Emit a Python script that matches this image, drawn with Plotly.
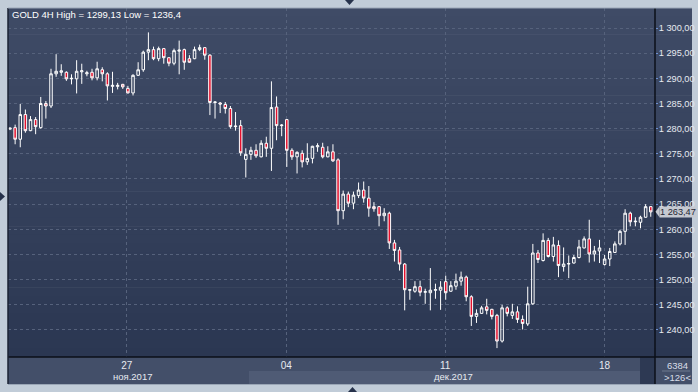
import plotly.graph_objects as go

# ---------------- data (GOLD 4H) ----------------
opens = [1279.9, 1280.2, 1277.9, 1282.8, 1279.6, 1281.8, 1280.2, 1285.0, 1284.5, 1290.9,
         1291.2, 1291.2, 1289.9, 1289.9, 1291.3, 1290.9, 1291.2, 1290.1, 1291.7, 1290.9,
         1288.4, 1288.4, 1288.8, 1288.0, 1287.1, 1290.6, 1291.7, 1295.2, 1295.7, 1293.9,
         1295.9, 1294.1, 1293.0, 1295.4, 1295.7, 1293.9, 1293.9, 1295.7, 1296.1, 1294.6,
         1285.2, 1285.1, 1284.8, 1284.0, 1280.4, 1280.6, 1273.9, 1274.9, 1275.7, 1274.4,
         1277.1, 1276.1, 1284.3, 1280.6, 1281.8, 1275.7, 1274.4, 1275.1, 1273.4, 1274.1,
         1276.4, 1276.3, 1274.4, 1275.4, 1273.8, 1263.7, 1267.0, 1265.2, 1266.7, 1267.8,
         1266.2, 1264.5, 1264.5, 1262.7, 1263.2, 1257.3, 1255.9, 1253.1, 1247.9, 1247.7,
         1248.6, 1247.5, 1247.4, 1247.9, 1247.9, 1249.6, 1247.7, 1248.7, 1249.7, 1250.5,
         1246.6, 1242.7, 1243.3, 1244.6, 1244.1, 1242.9, 1237.8, 1244.4, 1242.9, 1243.6,
         1242.1, 1241.2, 1245.2, 1255.3, 1253.8, 1257.8, 1254.6, 1256.8, 1252.6, 1253.1,
         1253.3, 1254.4, 1256.3, 1258.1, 1255.1, 1255.7, 1253.0, 1254.1, 1255.4, 1257.1,
         1259.6, 1263.2, 1261.5, 1261.4, 1262.4, 1264.5]
highs = [1280.2, 1280.8, 1284.9, 1283.8, 1282.5, 1282.3, 1286.3, 1285.5, 1291.9, 1294.8,
         1292.8, 1291.4, 1290.8, 1293.6, 1292.9, 1291.5, 1291.9, 1293.3, 1292.2, 1291.2,
         1291.3, 1289.1, 1288.9, 1288.5, 1290.8, 1293.2, 1295.5, 1299.13, 1296.3, 1296.3,
         1296.0, 1294.2, 1295.9, 1297.5, 1295.9, 1294.6, 1296.3, 1296.7, 1296.2, 1294.8,
         1285.4, 1285.3, 1285.3, 1284.5, 1283.3, 1281.7, 1276.1, 1276.4, 1276.9, 1277.7,
         1278.4, 1289.4, 1286.4, 1280.9, 1281.9, 1276.1, 1275.5, 1275.7, 1277.1, 1276.6,
         1277.1, 1277.2, 1276.5, 1276.9, 1274.1, 1267.7, 1267.5, 1267.5, 1269.3, 1269.5,
         1268.6, 1265.4, 1264.6, 1264.2, 1263.5, 1257.9, 1256.5, 1253.3, 1248.0, 1249.7,
         1249.8, 1248.2, 1252.3, 1249.2, 1249.7, 1250.8, 1249.7, 1251.2, 1251.6, 1250.8,
         1246.9, 1244.1, 1244.8, 1246.2, 1244.2, 1243.2, 1245.0, 1244.7, 1245.2, 1244.7,
         1242.9, 1248.6, 1257.1, 1255.9, 1259.2, 1258.3, 1258.5, 1257.8, 1256.4, 1254.8,
         1254.9, 1257.9, 1258.6, 1261.9, 1256.7, 1257.9, 1254.9, 1256.3, 1257.6, 1259.9,
         1264.0, 1263.5, 1262.4, 1262.7, 1265.0, 1264.6]
lows = [1279.8, 1276.9, 1276.3, 1279.2, 1279.5, 1278.9, 1280.0, 1282.0, 1284.1, 1290.3,
        1290.5, 1289.5, 1288.8, 1287.0, 1288.9, 1290.4, 1289.6, 1289.6, 1289.4, 1285.6,
        1287.1, 1287.8, 1287.9, 1287.0, 1286.6, 1290.5, 1291.3, 1293.6, 1293.6, 1293.4,
        1292.9, 1292.4, 1292.6, 1290.8, 1291.7, 1293.1, 1293.8, 1295.4, 1293.7, 1282.7,
        1282.0, 1283.1, 1283.0, 1280.0, 1279.6, 1274.6, 1270.3, 1273.8, 1274.2, 1274.3,
        1274.4, 1271.6, 1277.7, 1278.5, 1272.4, 1273.8, 1271.1, 1272.3, 1272.8, 1273.1,
        1275.4, 1274.1, 1274.3, 1273.4, 1260.9, 1262.0, 1264.4, 1264.0, 1266.2, 1265.3,
        1262.5, 1263.5, 1260.6, 1261.6, 1256.1, 1253.6, 1251.8, 1243.9, 1246.0, 1247.4,
        1246.7, 1245.2, 1243.9, 1246.2, 1244.0, 1246.0, 1247.6, 1248.0, 1248.8, 1245.7,
        1240.8, 1241.4, 1243.2, 1243.1, 1242.1, 1236.4, 1237.5, 1242.7, 1242.2, 1241.4,
        1240.1, 1240.8, 1245.0, 1253.3, 1253.6, 1254.4, 1253.6, 1250.5, 1251.6, 1250.3,
        1253.2, 1254.2, 1256.2, 1253.4, 1253.6, 1253.3, 1252.8, 1252.7, 1255.3, 1256.8,
        1256.9, 1260.6, 1260.6, 1260.2, 1262.3, 1262.5]
closes = [1280.1, 1277.9, 1282.8, 1279.6, 1281.8, 1280.4, 1285.0, 1284.5, 1290.9, 1291.4,
          1291.5, 1289.9, 1290.0, 1291.4, 1291.5, 1291.1, 1290.1, 1291.9, 1290.9, 1288.5,
          1288.6, 1288.6, 1288.3, 1287.1, 1290.6, 1291.7, 1295.2, 1295.7, 1293.9, 1295.9,
          1294.1, 1293.0, 1295.5, 1295.6, 1293.2, 1293.2, 1295.7, 1296.1, 1294.6, 1285.2,
          1285.3, 1284.9, 1284.0, 1280.4, 1280.5, 1275.2, 1274.9, 1275.7, 1274.6, 1277.1,
          1276.1, 1284.2, 1280.6, 1280.7, 1275.7, 1274.4, 1275.3, 1273.4, 1274.1, 1276.5,
          1276.6, 1274.4, 1275.4, 1273.6, 1263.7, 1267.0, 1265.2, 1266.8, 1267.8, 1266.2,
          1264.2, 1264.1, 1262.7, 1263.2, 1257.3, 1255.8, 1253.1, 1248.0, 1248.0, 1248.6,
          1247.5, 1247.6, 1247.9, 1248.0, 1248.5, 1247.4, 1248.8, 1249.7, 1250.5, 1246.6,
          1242.7, 1243.3, 1244.4, 1243.9, 1242.7, 1237.8, 1244.4, 1243.3, 1243.6, 1242.1,
          1241.3, 1245.2, 1255.3, 1254.0, 1257.8, 1254.6, 1256.9, 1252.8, 1253.1, 1253.2,
          1254.4, 1256.5, 1258.1, 1255.1, 1255.7, 1256.3, 1254.1, 1255.6, 1257.1, 1259.6,
          1263.2, 1261.5, 1261.6, 1262.4, 1264.5, 1263.47]

week_tick_pos = [22.8, 53.9, 84.9, 116.0]
week_tick_labels = ["27", "04", "11", "18"]
month_pos = [23.8, 86.6]
month_labels = ["ноя.2017", "дек.2017"]
price_ticks = [1240, 1245, 1250, 1255, 1260, 1265, 1270, 1275, 1280, 1285, 1290, 1295, 1300]
instrument = "GOLD 4H"
bar_count_text = "6384"
visible_bars_text = ">126<"

bars = list(range(len(opens)))

# ---------------- layout geometry (pixels) ----------------
W, H = 698, 392
PL, PR, PT, PB = 8, 655, 8, 357          # plot area
SR = 692                                 # right edge of price strip
SB = 384                                 # bottom edge of date strip


def px(x):
    return (x - PL) / (PR - PL)


def py(y):
    return (PB - y) / (PB - PT)


def fmt_price(v):
    s = f"{v:,.2f}"
    return s.replace(",", " ").replace(".", ",")


def fmt_plain(v):
    return (f"{v:.2f}".rstrip("0").rstrip(".")).replace(".", ",")


fig = go.Figure(go.Candlestick(
    x=bars, open=opens, high=highs, low=lows, close=closes,
    increasing=dict(line=dict(color="#ffffff", width=1), fillcolor="rgba(0,0,0,0)"),
    decreasing=dict(line=dict(color="#ffffff", width=1), fillcolor="#e5102d"),
    whiskerwidth=0, hoverinfo="skip",
))

shapes = []
# vertical gradient background for chart + price strip
top_c = (0x3f, 0x4b, 0x66)
bot_c = (0x2b, 0x37, 0x52)
N = 40
for i in range(N):
    t = i / (N - 1)
    c = tuple(round(top_c[k] + (bot_c[k] - top_c[k]) * t) for k in range(3))
    y0 = PT + (PB - PT) * i / N
    y1 = PT + (PB - PT) * (i + 1) / N + 0.6
    shapes.append(dict(type="rect", xref="paper", yref="paper", layer="below",
                       x0=px(PL), x1=px(SR), y0=py(y1), y1=py(y0),
                       fillcolor="rgb(%d,%d,%d)" % c, line=dict(width=0)))
# date strip
shapes.append(dict(type="rect", xref="paper", yref="paper", layer="below",
                   x0=px(PL), x1=px(SR), y0=py(SB), y1=py(PB),
                   fillcolor="#434f69", line=dict(width=0)))
shapes.append(dict(type="rect", xref="paper", yref="paper", layer="below",
                   x0=px(249), x1=px(640), y0=py(SB), y1=py(371),
                   fillcolor="#4f5b75", line=dict(width=0)))
shapes.append(dict(type="rect", xref="paper", yref="paper", layer="below",
                   x0=px(640), x1=px(PR), y0=py(SB), y1=py(PB),
                   fillcolor="#2d3953", line=dict(width=0)))
# frame lines
shapes.append(dict(type="line", xref="paper", yref="paper", x0=px(PL), x1=px(SR),
                   y0=py(PB), y1=py(PB), line=dict(color="#0b0f18", width=1.5)))
shapes.append(dict(type="line", xref="paper", yref="paper", x0=px(PR), x1=px(PR),
                   y0=py(PT), y1=py(SB), line=dict(color="#0b0f18", width=1.5)))
shapes.append(dict(type="line", xref="paper", yref="paper", x0=px(PL), x1=px(PL),
                   y0=py(PT), y1=py(SB), line=dict(color="#1a2233", width=1.5)))
shapes.append(dict(type="line", xref="paper", yref="paper", x0=px(PL), x1=px(SR),
                   y0=py(PT), y1=py(PT), line=dict(color="#9aa6b6", width=1)))
shapes.append(dict(type="line", xref="paper", yref="paper", x0=px(PL), x1=px(SR),
                   y0=py(SB + 0.5), y1=py(SB + 0.5), line=dict(color="#9aa6b6", width=1)))
shapes.append(dict(type="line", xref="paper", yref="paper", x0=px(662), x1=px(690),
                   y0=py(371), y1=py(371), line=dict(color="#6f7a8f", width=1)))
# small navigation triangles
def tri(pts):
    d = "M " + " L ".join("%f,%f" % (px(a), py(b)) for a, b in pts) + " Z"
    return dict(type="path", xref="paper", yref="paper", path=d,
                fillcolor="#26324b", line=dict(width=0))
shapes.append(tri([(345, 0), (354, 0), (349.5, 5)]))
shapes.append(tri([(348, 392), (357, 392), (352.5, 387)]))
shapes.append(tri([(0, 192), (0, 201), (5, 196.5)]))
# current price marker arrow
last = closes[-1]
y_last_px = 28 + (1300 - last) * 5.033
shapes.append(tri([(655.5, y_last_px), (659.5, y_last_px - 5.5), (659.5, y_last_px + 5.5)]))
shapes[-1]["fillcolor"] = "#c5c9d1"

annotations = [
    dict(text=f"{instrument} High = {fmt_plain(max(highs))} Low = {fmt_plain(min(lows))}",
         xref="paper", yref="paper", x=px(10), y=py(14.5), xanchor="left", yanchor="middle",
         showarrow=False, font=dict(size=9.5, color="#ffffff")),
    dict(text=fmt_price(last), xref="paper", yref="y", x=px(659.5), y=last,
         xanchor="left", yanchor="middle", showarrow=False, bgcolor="#c5c9d1",
         borderpad=0, font=dict(size=9.2, color="#1f2633")),
    dict(text=bar_count_text, xref="paper", yref="paper", x=px(677), y=py(365),
         xanchor="center", yanchor="middle", showarrow=False,
         font=dict(size=9.5, color="#d8dee8")),
    dict(text=visible_bars_text, xref="paper", yref="paper", x=px(677), y=py(377.5),
         xanchor="center", yanchor="middle", showarrow=False,
         font=dict(size=9.5, color="#d8dee8")),
]
for pos, lab in zip(month_pos, month_labels):
    annotations.append(dict(text=lab, xref="x", yref="paper", x=pos, y=py(376.5),
                            xanchor="center", yanchor="middle", showarrow=False,
                            font=dict(size=9.5, color="#e6eaf0")))

top_price = 1300 + (28 - PT) / 5.033
bot_price = 1300 - (PB - 28) / 5.033
x_left = (PL - 10) / 5.126
x_right = (PR - 10) / 5.126

fig.update_layout(
    width=W, height=H,
    margin=dict(l=PL, r=W - PR, t=PT, b=H - PB, pad=0, autoexpand=False),
    paper_bgcolor="#c1ccd8", plot_bgcolor="rgba(0,0,0,0)",
    showlegend=False, separators=", ",
    font=dict(family="Liberation Sans", size=10, color="#e6eaf0"),
    shapes=shapes, annotations=annotations,
    xaxis=dict(range=[x_left, x_right], tickmode="array", tickvals=week_tick_pos,
               ticktext=week_tick_labels, showgrid=True, gridcolor="#56627c",
               griddash="3px,3px", gridwidth=1, zeroline=False, showline=False,
               ticks="", tickfont=dict(size=10, color="#e6eaf0"), automargin=False,
               ticklabelstandoff=1,
               rangeslider=dict(visible=False), fixedrange=True),
    yaxis=dict(range=[bot_price, top_price], side="right", tickmode="array",
               tickvals=price_ticks, tickformat=",.2f", showgrid=True,
               gridcolor="#56627c", griddash="3px,3px", gridwidth=1, zeroline=False,
               showline=False, ticks="outside", ticklen=2, tickcolor="#6d8fd0",
               automargin=False, ticklabelstandoff=-1,
               tickfont=dict(size=9.2, color="#e6eaf0"),
               fixedrange=True),
)

fig.write_html("out.html")
